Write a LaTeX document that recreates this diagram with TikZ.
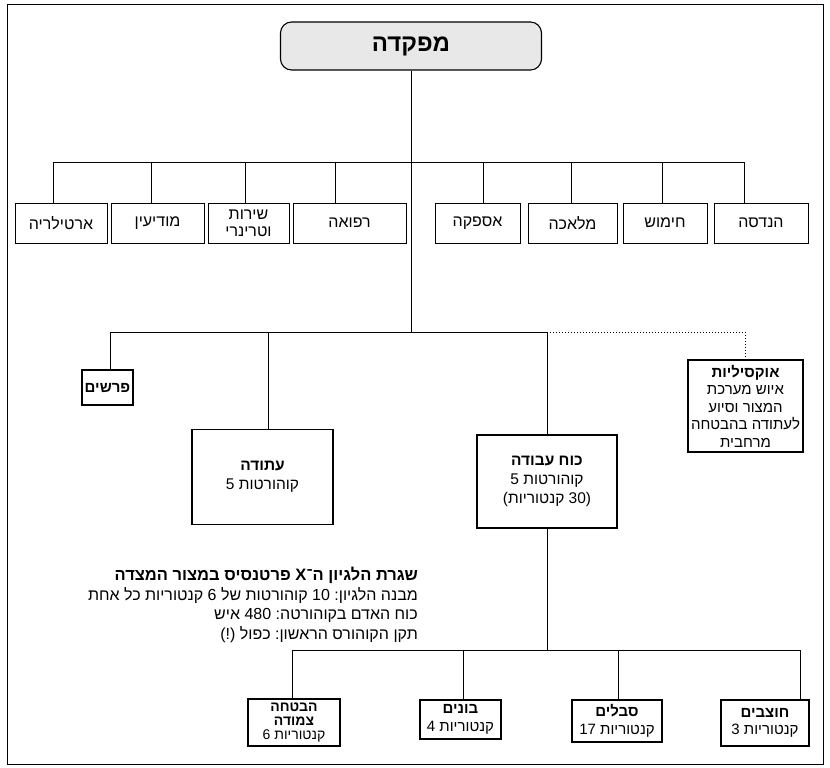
\documentclass[tikz,border=0pt]{standalone}
\usepackage{fontspec}
\setmainfont{Liberation Sans}
\newfontfamily\heb[Script=Hebrew]{Liberation Sans}
\TeXXeTstate=1
\newcommand{\rtltext}[1]{\beginR #1\endR}
\begin{document}
\begin{tikzpicture}[x=1pt,y=-1pt,
  box/.style={draw, line width=0.9pt, inner sep=1pt, align=center,
    font=\heb\fontsize{16}{17}\selectfont},
  lbox/.style={box, line width=1.2pt, font=\heb\fontsize{15}{17.5}\selectfont},
  sbox/.style={box, line width=1.2pt, font=\heb\fontsize{14}{14.2}\selectfont},
  hbox/.style={box, line width=1.6pt, font=\heb\fontsize{15.5}{19}\selectfont},
  titlebox/.style={draw, line width=1.1pt, rounded corners=11pt, fill=black!9,
    font=\heb\bfseries\fontsize{24}{26}\selectfont},
  link/.style={line width=0.8pt},
  note/.style={anchor=east, inner sep=0pt, font=\heb\fontsize{16}{17}\selectfont}]
\useasboundingbox (0,0) rectangle (830,768);
\draw[line width=0.9pt] (7,4) rectangle (823,764);

% top
\node[titlebox, minimum width=261pt, minimum height=48pt] (hq) at (411,46) {\rtltext{מפקדה}};

% upper row
\node[box, minimum width=92pt, minimum height=40pt] (art) at (61,223) {ארטילריה};
\node[box, minimum width=93pt, minimum height=40pt] (mod) at (157.5,223) {מודיעין};
\node[box, minimum width=81pt, minimum height=40pt] (vet) at (248.5,223) {שירות\\וטרינרי};
\node[box, minimum width=113pt, minimum height=40pt] (med) at (349.5,223) {רפואה};
\node[box, minimum width=85pt, minimum height=40pt] (asp) at (477.5,223) {אספקה};
\node[box, minimum width=89pt, minimum height=40pt] (mel) at (572.5,223) {מלאכה};
\node[box, minimum width=84pt, minimum height=40pt] (him) at (665,223) {חימוש};
\node[box, minimum width=94pt, minimum height=40pt] (han) at (761,223) {הנדסה};

\coordinate (j2) at (411,332);
\coordinate (u1) at (53,162);
\coordinate (u2) at (151,162);
\coordinate (u3) at (245,162);
\coordinate (u4) at (335,162);
\coordinate (u5) at (483,162);
\coordinate (u6) at (571,162);
\coordinate (u7) at (662,162);
\coordinate (u8) at (744,162);

\draw[link] (hq.south) -- (j2);
\draw[link] (u1) -- (u8);
\draw[link] (u1) -- (art.north -| u1);
\draw[link] (u2) -- (mod.north -| u2);
\draw[link] (u3) -- (vet.north -| u3);
\draw[link] (u4) -- (med.north -| u4);
\draw[link] (u5) -- (asp.north -| u5);
\draw[link] (u6) -- (mel.north -| u6);
\draw[link] (u7) -- (him.north -| u7);
\draw[link] (u8) -- (han.north -| u8);

% middle row
\node[lbox, minimum width=51pt, minimum height=35pt] (prs) at (107.5,387.5) {\textbf{פרשים}};
\node[hbox, minimum width=141pt, minimum height=95pt] (atu) at (262.5,477) {\textbf{עתודה}\\\rtltext{קוהורטות 5}};
\node[hbox, minimum width=140pt, minimum height=93pt] (kw) at (547,481.5) {\textbf{\rtltext{כוח עבודה}}\\\rtltext{קוהורטות 5}\\\rtltext{(30 קנטוריות)}};
\node[lbox, minimum width=115pt, minimum height=92pt, inner sep=0pt] (aux) at (745.5,406) {\textbf{אוקסיליות}\\\rtltext{איוש מערכת}\\\rtltext{המצור וסיוע}\\\rtltext{לעתודה בהבטחה}\\מרחבית};

\coordinate (l1) at (110,332);
\coordinate (l2) at (268,332);
\coordinate (l3) at (547,332);
\coordinate (l4) at (745,332);
\draw[link] (l1) -- (l3);
\draw[link] (l1) -- (prs.north -| l1);
\draw[link] (l2) -- (atu.north -| l2);
\draw[link] (l3) -- (kw.north);
\draw[line width=1pt, dotted] (l3) -- (l4) -- (aux.north -| l4);

% bottom row
\node[sbox, minimum width=92pt, minimum height=47pt, inner sep=0pt] (hab) at (294,722.5) {\textbf{הבטחה}\\\textbf{צמודה}\\\rtltext{קנטוריות 6}};
\node[lbox, minimum width=81pt, minimum height=39pt] (bon) at (460.5,719.5) {\textbf{בונים}\\\rtltext{קנטוריות 4}};
\node[lbox, minimum width=90pt, minimum height=42pt] (sav) at (617,721) {\textbf{סבלים}\\\rtltext{קנטוריות 17}};
\node[lbox, minimum width=88pt, minimum height=46pt] (hot) at (765,723) {\textbf{חוצבים}\\\rtltext{קנטוריות 3}};

\coordinate (b0) at (547,650);
\coordinate (b1) at (292,650);
\coordinate (b2) at (463,650);
\coordinate (b3) at (618,650);
\coordinate (b4) at (800,650);
\draw[link] (kw.south) -- (b0);
\draw[link] (b1) -- (b4);
\draw[link] (b1) -- (hab.north -| b1);
\draw[link] (b2) -- (bon.north -| b2);
\draw[link] (b3) -- (sav.north -| b3);
\draw[link] (b4) -- (hot.north -| b4);

% notes
\node[note, font=\heb\bfseries\fontsize{16.5}{17}\selectfont] (t1) at (418,575) {\rtltext{שגרת הלגיון ה־\hbox{X} פרטנסיס במצור המצדה}};
\node[note] (t2) at (418,595) {\rtltext{מבנה הלגיון\hbox{:} 10 קוהורטות של 6 קנטוריות כל אחת}};
\node[note] (t3) at (418,615) {\rtltext{כוח האדם בקוהורטה\hbox{:} 480 איש}};
\node[note] (t4) at (418,635) {\rtltext{תקן הקוהורס הראשון\hbox{:} כפול \hbox{(!)}}};
\end{tikzpicture}
\end{document}
